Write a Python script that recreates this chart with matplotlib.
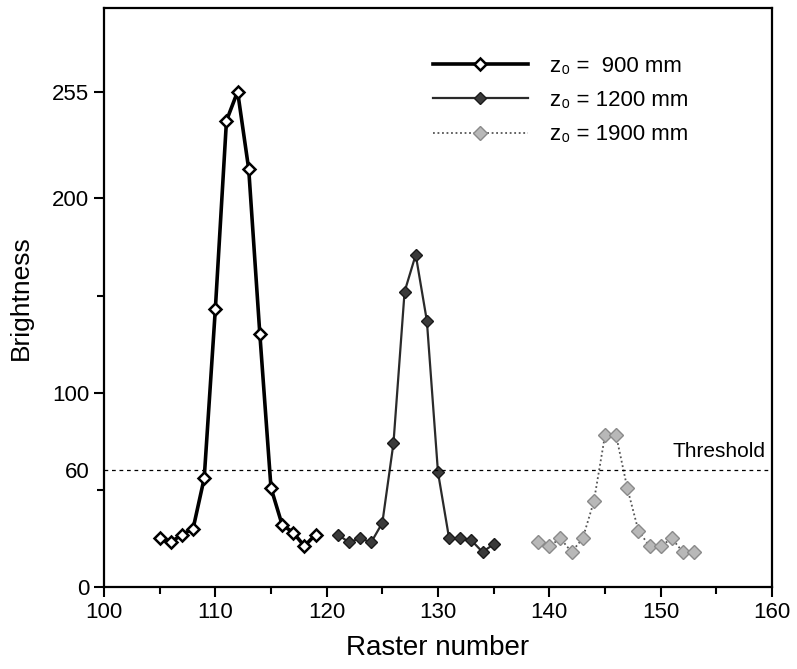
import matplotlib.pyplot as plt
from matplotlib.ticker import MultipleLocator, FixedLocator

plt.rcParams['font.family'] = ['Liberation Sans', 'DejaVu Sans']

# raster number / brightness for the three distances
x_900 = [105, 106, 107, 108, 109, 110, 111, 112, 113, 114, 115, 116, 117, 118, 119]
y_900 = [25, 23, 27, 30, 56, 143, 240, 255, 215, 130, 51, 32, 28, 21, 27]

x_1200 = [121, 122, 123, 124, 125, 126, 127, 128, 129, 130, 131, 132, 133, 134, 135]
y_1200 = [27, 23, 25, 23, 33, 74, 152, 171, 137, 59, 25, 25, 24, 18, 22]

x_1900 = [139, 140, 141, 142, 143, 144, 145, 146, 147, 148, 149, 150, 151, 152, 153]
y_1900 = [23, 21, 25, 18, 25, 44, 78, 78, 51, 29, 21, 21, 25, 18, 18]

labels = ['z\u2080 =  900 mm', 'z\u2080 = 1200 mm', 'z\u2080 = 1900 mm']
threshold = 60

fig = plt.figure(figsize=(7.97, 6.69), dpi=100)
ax = fig.add_axes([0.1305, 0.1226, 0.8381, 0.8654])

ax.plot(x_900, y_900, color='black', lw=2.6, marker='D', ms=6,
        mfc='white', mec='black', mew=1.8, label=labels[0])
ax.plot(x_1200, y_1200, color='#2a2a2a', lw=1.6, marker='D', ms=6.5,
        mfc='#3a3a3a', mec='#1a1a1a', mew=1.0, label=labels[1])
ax.plot(x_1900, y_1900, color='#555555', lw=1.3, ls=(0, (1, 1.5)), marker='D', ms=7.5,
        mfc='#b8b8b8', mec='#8a8a8a', mew=1.0, label=labels[2])

ax.axhline(threshold, color='black', lw=0.9, ls=(0, (3, 3)))
ax.text(159.4, threshold + 5, 'Threshold', ha='right', va='bottom', fontsize=15)

ax.set_xlim(100, 160)
ax.set_ylim(0, 298)
ax.xaxis.set_major_locator(MultipleLocator(10))
ax.xaxis.set_minor_locator(MultipleLocator(5))
ax.set_yticks([0, 60, 100, 200, 255])
ax.yaxis.set_minor_locator(FixedLocator([50, 150]))
ax.yaxis.get_major_ticks()[1].tick1line.set_visible(False)

ax.tick_params(which='major', length=7, width=1.5, labelsize=16, direction='out')
ax.tick_params(which='minor', length=5, width=1.5, direction='out')
for s in ax.spines.values():
    s.set_linewidth(1.6)

ax.set_xlabel('Raster number', fontsize=20, labelpad=9)
ax.set_ylabel('Brightness', fontsize=19, labelpad=14)

leg = ax.legend(loc='upper left', bbox_to_anchor=(0.462, 0.952), frameon=False,
                fontsize=16, handlelength=4.3, labelspacing=0.6, handletextpad=1.0)

fig.savefig('out.png', dpi=100)
